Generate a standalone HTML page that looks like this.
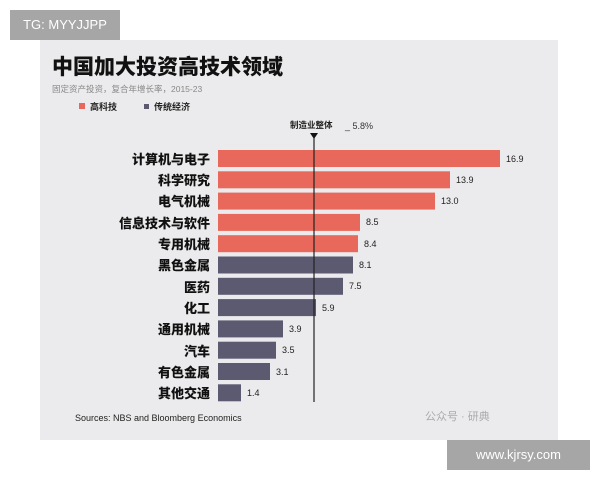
<!DOCTYPE html>
<html><head><meta charset="utf-8"><style>
body{margin:0;width:600px;height:480px;background:#fff;overflow:hidden;position:relative;font-family:"Liberation Sans","Noto Sans CJK SC",sans-serif}
.p{position:absolute;left:40px;top:40px;width:518px;height:400px;background:#ebebed}
.tg{position:absolute;left:10px;top:10px;width:110px;height:30px;background:#a6a6a6;color:#fff;font-size:13px;line-height:30px;text-align:center}
.ww{position:absolute;left:447px;top:440px;width:143px;height:30px;background:#a6a6a6;color:#fff;font-size:13px;line-height:30px;text-align:center}
</style></head><body>
<div class="p"></div>
<div class="tg">TG: MYYJJPP</div>
<svg width="600" height="480" style="position:absolute;left:0;top:0" font-family="Liberation Sans, Noto Sans CJK SC, sans-serif">
<text x="52" y="74" font-size="21" font-weight="900" fill="#111">中国加大投资高技术领域</text>
<text x="52" y="92" font-size="8.5" fill="#888">固定资产投资，复合年增长率，2015-23</text>
<rect x="79" y="103" width="6" height="6" fill="#e8685c"/><text x="90" y="110" font-size="9" font-weight="bold" fill="#222">高科技</text>
<rect x="144" y="104" width="5" height="5" fill="#5c5a70"/><text x="154" y="110" font-size="9" font-weight="bold" fill="#222">传统经济</text>
<text x="290" y="128" font-size="8.5" font-weight="bold" fill="#222">制造业整体</text>
<text x="345" y="129" font-size="9" fill="#333">_ 5.8%</text>
<g font-size="13" font-weight="900" fill="#111" text-anchor="end">
<text x="210" y="164">计算机与电子</text><text x="210" y="185">科学研究</text><text x="210" y="206">电气机械</text><text x="210" y="228">信息技术与软件</text><text x="210" y="249">专用机械</text><text x="210" y="270">黑色金属</text><text x="210" y="292">医药</text><text x="210" y="313">化工</text><text x="210" y="334">通用机械</text><text x="210" y="356">汽车</text><text x="210" y="377">有色金属</text><text x="210" y="398">其他交通</text>
</g>
<g fill="#e8685c">
<rect x="218" y="150" width="282" height="17"/><rect x="218" y="171.3" width="232" height="17"/><rect x="218" y="192.6" width="217" height="17"/><rect x="218" y="213.9" width="142" height="17"/><rect x="218" y="235.2" width="140" height="17"/>
</g>
<g fill="#5c5a70">
<rect x="218" y="256.5" width="135" height="17"/><rect x="218" y="277.8" width="125" height="17"/><rect x="218" y="299.1" width="98" height="17"/><rect x="218" y="320.4" width="65" height="17"/><rect x="218" y="341.7" width="58" height="17"/><rect x="218" y="363" width="52" height="17"/><rect x="218" y="384.3" width="23" height="17"/>
</g>
<polygon points="310,133 318,133 314,139" fill="#111"/>
<line x1="314" y1="137" x2="314" y2="402" stroke="#222" stroke-width="1.2"/>
<g font-size="9" fill="#222">
<text x="506" y="162">16.9</text><text x="456" y="183">13.9</text><text x="441" y="204">13.0</text><text x="366" y="225">8.5</text><text x="364" y="247">8.4</text><text x="359" y="268">8.1</text><text x="349" y="289">7.5</text><text x="322" y="311">5.9</text><text x="289" y="332">3.9</text><text x="282" y="353">3.5</text><text x="276" y="375">3.1</text><text x="247" y="396">1.4</text>
</g>
<text x="75" y="421" font-size="9" fill="#222">Sources: NBS and Bloomberg Economics</text>
<text x="425" y="420" font-size="11" fill="#aaa">公众号 · 研典</text>
</svg>
<div class="ww">www.kjrsy.com</div>
</body></html>
